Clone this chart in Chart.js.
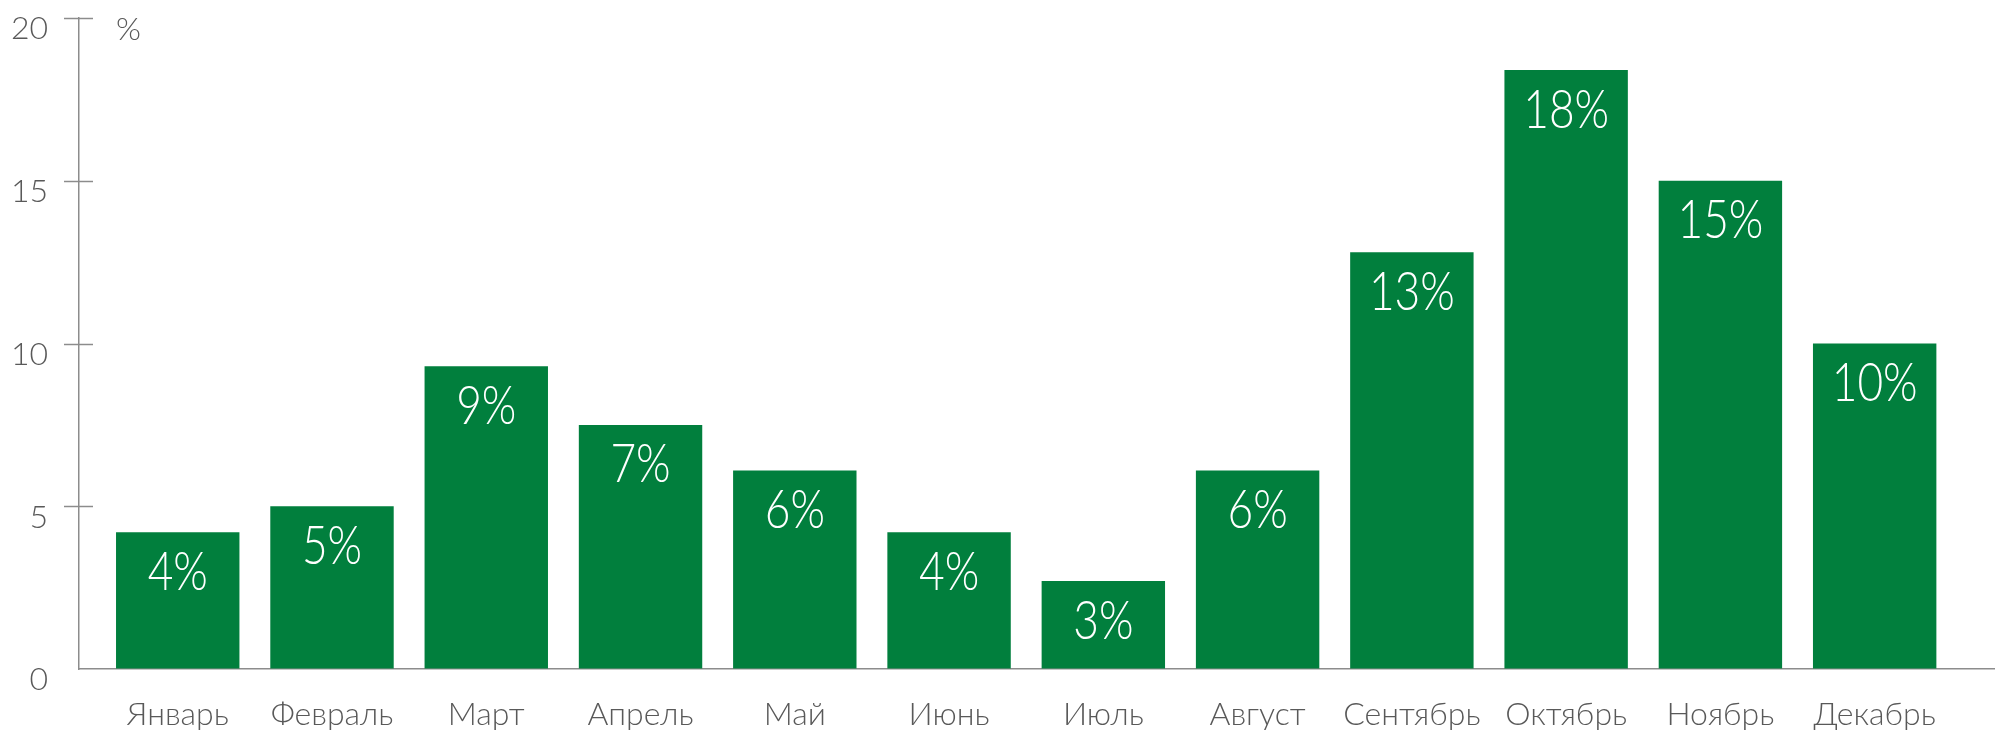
<!DOCTYPE html>
<html>
<head>
<meta charset="utf-8">
<script src="https://cdn.jsdelivr.net/npm/chart.js@4.4.0/dist/chart.umd.min.js"></script>
<style>
  body { margin: 0; background: #fff; }
</style>
</head>
<body>
<canvas id="monthChart" width="1995" height="730"></canvas>
<script>
const months = ["Январь", "Февраль", "Март", "Апрель", "Май", "Июнь", "Июль", "Август", "Сентябрь", "Октябрь", "Ноябрь", "Декабрь"];
const shares = [4.2, 5.0, 9.3, 7.5, 6.1, 4.2, 2.7, 6.1, 12.8, 18.4, 15.0, 10.0];
const shareLabels = ["4%", "5%", "9%", "7%", "6%", "4%", "3%", "6%", "13%", "18%", "15%", "10%"];
const yTicks = [0, 5, 10, 15, 20];
const unitLabel = "%";

const green = "#017f3d";
const axisGrey = "#8c8c8c";
const textGrey = "#595959";

// value labels inside the top of each bar + unit sign + crossing tick marks
const extras = {
    id: "extras",
    afterDatasetsDraw(chart) {
        const ctx = chart.ctx;
        const meta = chart.getDatasetMeta(0);
        ctx.save();
        ctx.fillStyle = "#fff";
        ctx.font = "300 54px Lato";
        ctx.textAlign = "center";
        ctx.textBaseline = "middle";
        meta.data.forEach((bar, i) => {
            ctx.save();
            ctx.translate(bar.x, bar.y + 40);
            ctx.scale(0.82, 1);
            ctx.fillText(shareLabels[i], 0, 0);
            ctx.restore();
        });
        ctx.restore();

        // tick marks crossing the y axis
        const y = chart.scales.y;
        const left = chart.chartArea.left;
        ctx.save();
        ctx.strokeStyle = axisGrey;
        ctx.lineWidth = 1.5;
        yTicks.slice(1).forEach(v => {
            const py = Math.round(y.getPixelForValue(v)) + 0.5;
            ctx.beginPath();
            ctx.moveTo(left - 15, py);
            ctx.lineTo(left + 14, py);
            ctx.stroke();
        });
        ctx.fillStyle = textGrey;
        ctx.font = "300 32px Lato";
        ctx.textAlign = "left";
        ctx.textBaseline = "middle";
        ctx.fillText(unitLabel, left + 37, chart.chartArea.top + 12);
        ctx.restore();
    }
};

new Chart(document.getElementById("monthChart").getContext("2d"), {
    type: "bar",
    data: {
        datasets: [{
            data: shares.map((v, i) => ({ x: i, y: v })),
            backgroundColor: green,
            barPercentage: 0.8,
            categoryPercentage: 1
        }]
    },
    options: {
        responsive: false,
        animation: false,
        devicePixelRatio: 1,
        layout: { padding: { top: 18, left: 0, right: 0, bottom: 0 } },
        plugins: {
            legend: { display: false },
            tooltip: { enabled: false }
        },
        scales: {
            x: {
                type: "linear",
                offset: false,
                min: -0.64,
                max: 11.78,
                afterBuildTicks: scale => {
                    scale.ticks = months.map((m, i) => ({ value: i }));
                },
                afterFit: scale => {
                    scale.height = 61;
                    scale.paddingLeft = 0;
                    scale.paddingRight = 0;
                },
                grid: { display: false, drawTicks: false },
                border: { color: axisGrey, width: 1.5 },
                ticks: {
                    autoSkip: false,
                    maxRotation: 0,
                    padding: 26,
                    color: textGrey,
                    font: { family: "Lato", size: 32, weight: 300 },
                    callback: v => months[v]
                }
            },
            y: {
                min: 0,
                max: 20,
                afterBuildTicks: scale => {
                    scale.ticks = yTicks.map(v => ({ value: v }));
                },
                afterFit: scale => {
                    scale.width = 79;
                    scale.paddingTop = 0;
                    scale.paddingBottom = 0;
                },
                grid: { drawOnChartArea: false, drawTicks: true, tickLength: 15, color: "rgba(0,0,0,0)" },
                border: { color: axisGrey, width: 1.5 },
                ticks: {
                    padding: 16,
                    labelOffset: 11,
                    color: textGrey,
                    font: { family: "Lato", size: 32, weight: 300 }
                }
            }
        }
    },
    plugins: [extras]
});
</script>
</body>
</html>
